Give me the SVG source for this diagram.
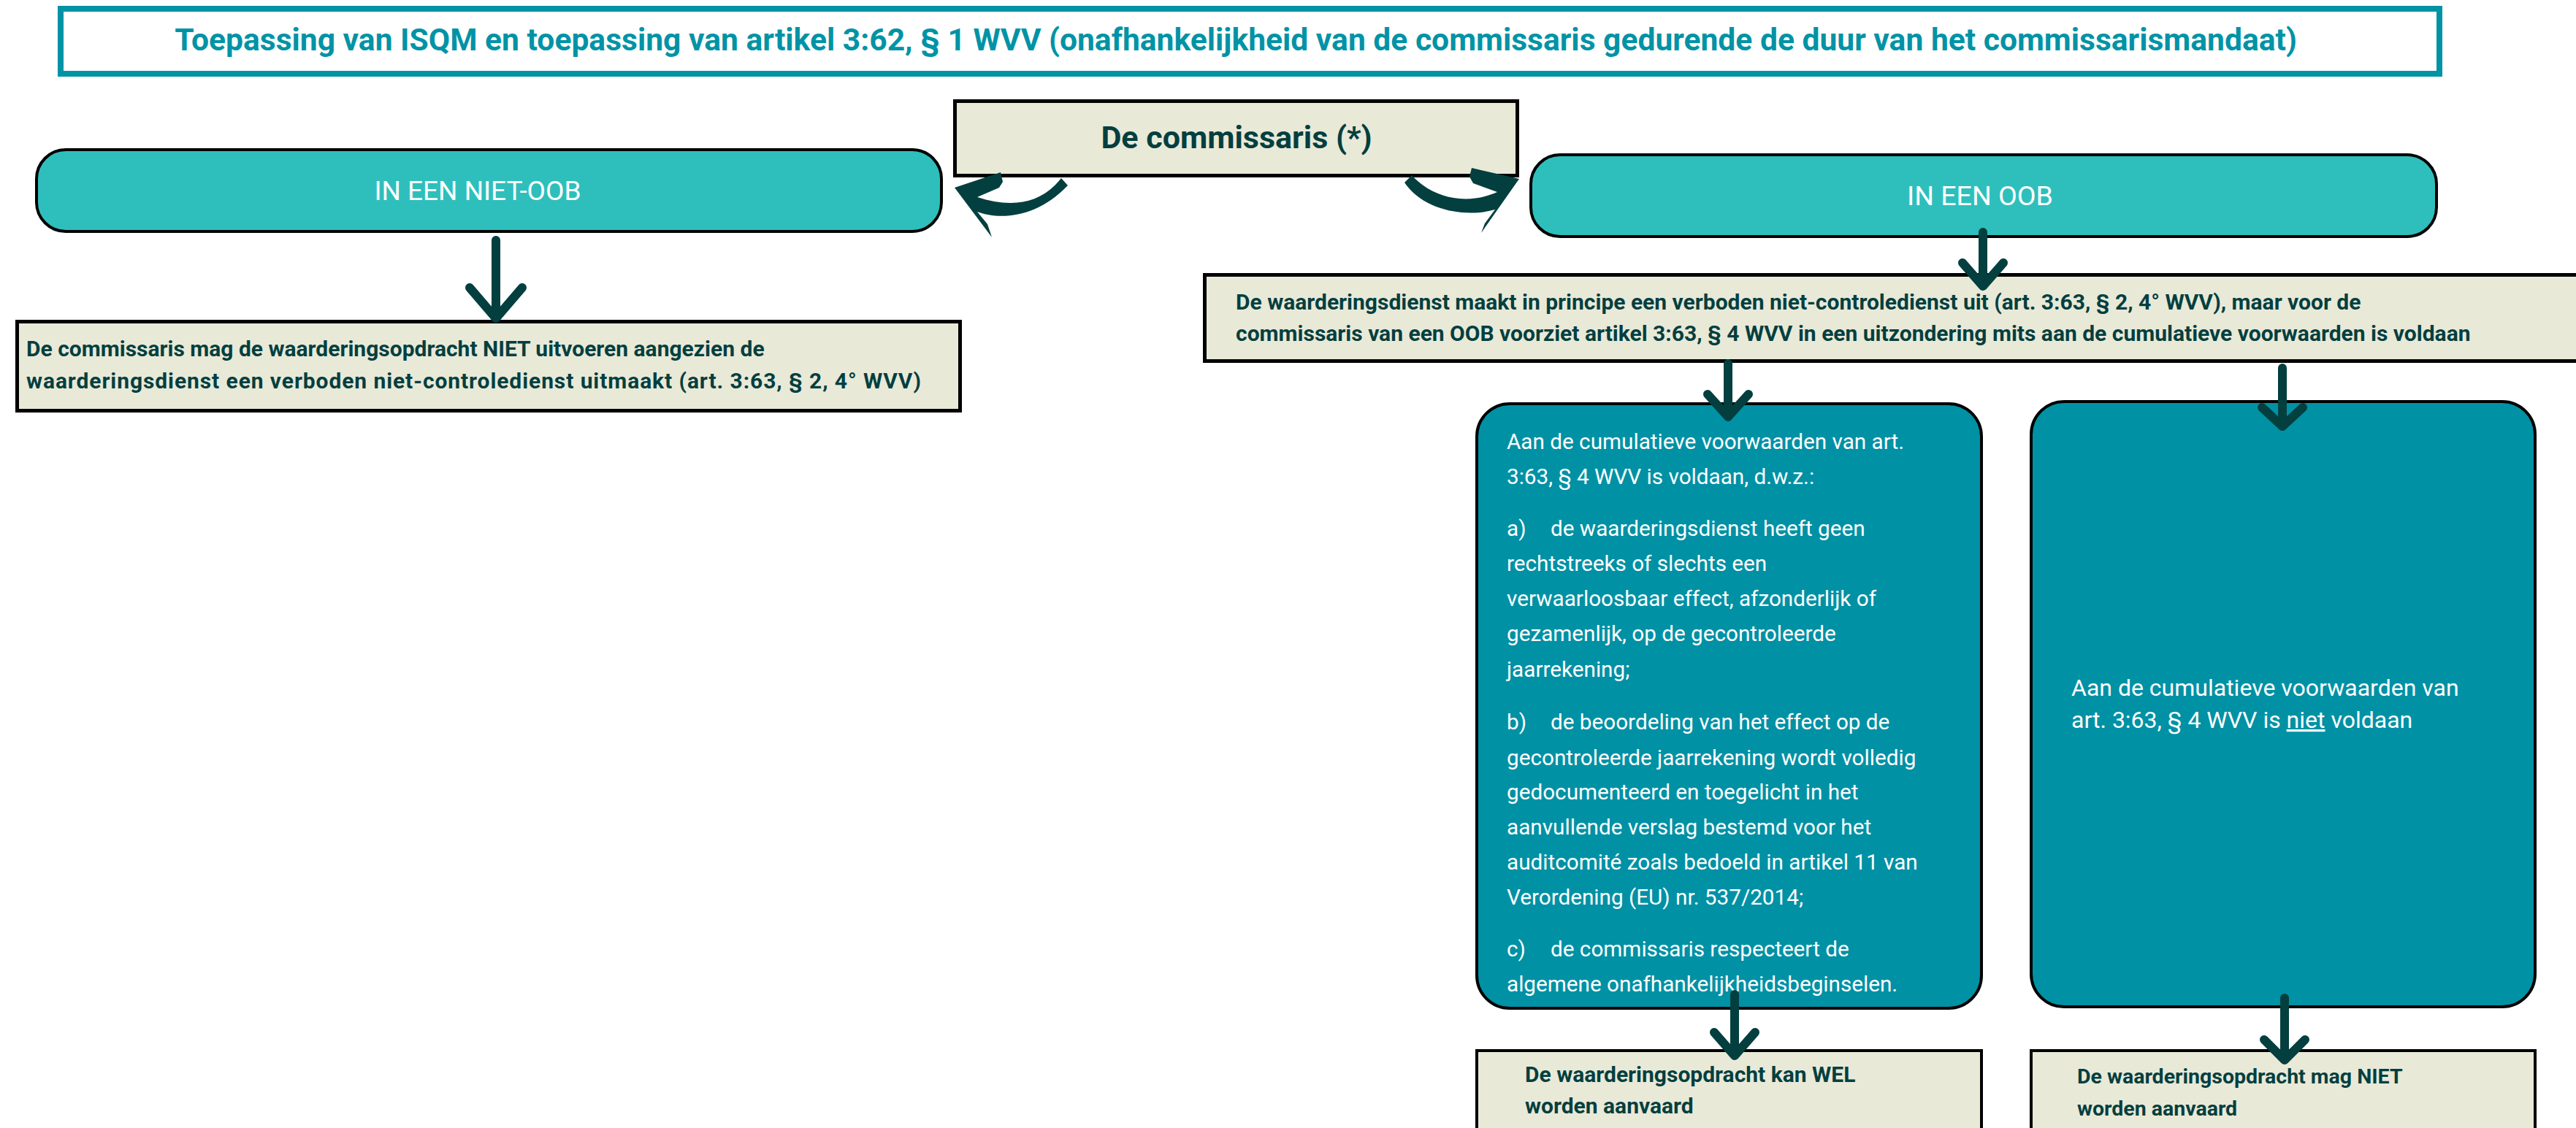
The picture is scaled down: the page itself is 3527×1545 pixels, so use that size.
<svg xmlns="http://www.w3.org/2000/svg" width="3527" height="1545" viewBox="0 0 3527 1545">
<style>
.beige{fill:#E9E9D8;stroke:#000;stroke-width:5}
.pill{fill:#2EBFBC;stroke:#000;stroke-width:4}
.teal{fill:#0091A5;stroke:#000;stroke-width:4}
.bt{font-family:Roboto,"Liberation Sans",sans-serif;font-weight:bold;fill:#033F3F}
.wt{font-family:Roboto,"Liberation Sans",sans-serif;fill:#fff}
.conn path{fill:none;stroke:#033F3F;stroke-width:12;stroke-linecap:round;stroke-linejoin:round}
.conn path.curve{fill:#033F3F;stroke:none}
</style>
<rect width="3527" height="1545" fill="#fff"/>
<g id="title">
<rect x="83" y="12" width="3257" height="89" fill="#fff" stroke="#0093A6" stroke-width="8"/>
<text x="1692" y="69" text-anchor="middle" class="bt" style="fill:#0093A6" font-size="42.6">Toepassing van ISQM en toepassing van artikel 3:62, § 1 WVV (onafhankelijkheid van de commissaris gedurende de duur van het commissarismandaat)</text>
</g>
<g id="commissaris">
<rect x="1307.5" y="138.5" width="770" height="102" class="beige"/>
<text x="1693" y="203" text-anchor="middle" class="bt" font-size="43">De commissaris (*)</text>
</g>
<g id="niet-oob">
<rect x="50" y="205" width="1239" height="112" rx="40" class="pill"/>
<text x="654" y="274" text-anchor="middle" class="wt" font-size="37">IN EEN NIET-OOB</text>
</g>
<g id="oob">
<rect x="2096" y="212" width="1240" height="112" rx="40" class="pill"/>
<text x="2711" y="281" text-anchor="middle" class="wt" font-size="37.5">IN EEN OOB</text>
</g>
<g id="niet-oob-result">
<rect x="23.5" y="440.5" width="1291" height="122" class="beige"/>
<text class="bt" font-size="30" x="36" y="488">De commissaris mag de waarderingsopdracht NIET uitvoeren aangezien de</text>
<text class="bt" font-size="30" x="36" y="532" textLength="1225">waarderingsdienst een verboden niet-controledienst uitmaakt (art. 3:63, § 2, 4° WVV)</text>
</g>
<g id="oob-principe">
<rect x="1649.5" y="376.5" width="1900" height="118" class="beige"/>
<text class="bt" font-size="30"><tspan x="1692" y="424">De waarderingsdienst maakt in principe een verboden niet-controledienst uit (art. 3:63, § 2, 4° WVV), maar voor de</tspan><tspan x="1692" y="467">commissaris van een OOB voorziet artikel 3:63, § 4 WVV in een uitzondering mits aan de cumulatieve voorwaarden is voldaan</tspan></text>
</g>
<g id="voldaan">
<rect x="2022" y="553" width="691" height="828" rx="45" class="teal"/>
<text class="wt" font-size="29.7">
<tspan x="2063" y="615">Aan de cumulatieve voorwaarden van art.</tspan>
<tspan x="2063" y="663">3:63, § 4 WVV is voldaan, d.w.z.:</tspan>
<tspan x="2063" y="734">a)</tspan><tspan x="2123" y="734">de waarderingsdienst heeft geen</tspan>
<tspan x="2063" y="782">rechtstreeks of slechts een</tspan>
<tspan x="2063" y="830">verwaarloosbaar effect, afzonderlijk of</tspan>
<tspan x="2063" y="878">gezamenlijk, op de gecontroleerde</tspan>
<tspan x="2063" y="927">jaarrekening;</tspan>
<tspan x="2063" y="999">b)</tspan><tspan x="2123" y="999">de beoordeling van het effect op de</tspan>
<tspan x="2063" y="1048">gecontroleerde jaarrekening wordt volledig</tspan>
<tspan x="2063" y="1095">gedocumenteerd en toegelicht in het</tspan>
<tspan x="2063" y="1143">aanvullende verslag bestemd voor het</tspan>
<tspan x="2063" y="1191">auditcomité zoals bedoeld in artikel 11 van</tspan>
<tspan x="2063" y="1239">Verordening (EU) nr. 537/2014;</tspan>
<tspan x="2063" y="1310">c)</tspan><tspan x="2123" y="1310">de commissaris respecteert de</tspan>
<tspan x="2063" y="1358">algemene onafhankelijkheidsbeginselen.</tspan>
</text>
</g>
<g id="niet-voldaan">
<rect x="2781" y="550" width="690" height="829" rx="45" class="teal"/>
<text class="wt" font-size="32"><tspan x="2836" y="953">Aan de cumulatieve voorwaarden van</tspan><tspan x="2836" y="997">art. 3:63, § 4 WVV is <tspan text-decoration="underline">niet</tspan> voldaan</tspan></text>
</g>
<g id="wel">
<rect x="2022" y="1439" width="691" height="130" class="beige" style="stroke-width:4"/>
<text class="bt" font-size="30"><tspan x="2088" y="1482">De waarderingsopdracht kan WEL</tspan><tspan x="2088" y="1525">worden aanvaard</tspan></text>
</g>
<g id="niet">
<rect x="2781" y="1439" width="690" height="130" class="beige" style="stroke-width:4"/>
<text class="bt" font-size="28.5"><tspan x="2844" y="1484">De waarderingsopdracht mag NIET</tspan><tspan x="2844" y="1528">worden aanvaard</tspan></text>
</g>
<g id="connectors" class="conn">
<path class="curve" d="M1370,236 L1307,257 L1358,325 L1352,307 L1338,290 C1370,302 1420,298 1462,254 L1453,244 C1425,280 1385,285 1338,270 L1368,257 L1373,249 Z"/>
<path class="curve" d="M2015,230 L2080,245 L2028,319 L2033,306 L2047,287 C2010,298 1950,290 1923,250 L1933,240 C1955,265 2000,285 2050,263 L2017,251 L2012,242 Z"/>
<path d="M679,329 L679,434 M643,394 L679,436 L715,394"/>
<path d="M2715,318 L2715,390 M2687,360 L2715,392 L2743,360"/>
<path d="M2366,498 L2366,569 M2338,540 L2366,571 L2394,540"/>
<path d="M3125,504 L3125,582 M3097,558 L3125,584 L3153,558"/>
<path d="M2375,1362 L2375,1444 M2347,1414 L2375,1446 L2403,1414"/>
<path d="M3128,1367 L3128,1450 M3100,1424 L3128,1452 L3156,1424"/>
</g>
</svg>
